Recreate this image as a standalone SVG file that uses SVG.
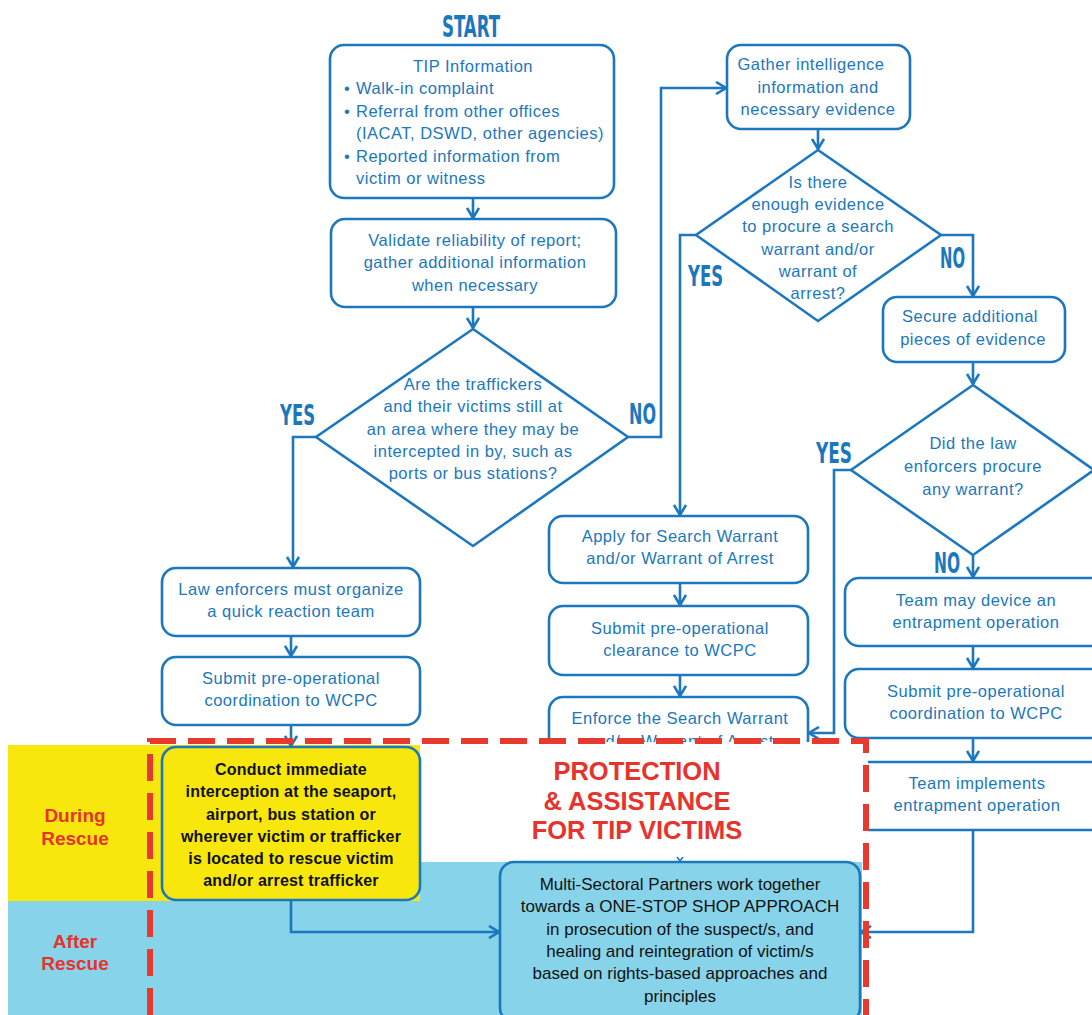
<svg xmlns="http://www.w3.org/2000/svg" width="1092" height="1015" viewBox="0 0 1092 1015">
<defs>
<style>
.box{fill:#fff;stroke:#1b77be;stroke-width:2.6}
.dia{fill:#fff;stroke:#1b77be;stroke-width:2.6}
.t{font-family:"Liberation Sans",Arial,sans-serif;font-size:16.5px;letter-spacing:0.5px;fill:#1b77be;text-anchor:middle}
.tl{font-family:"Liberation Sans",Arial,sans-serif;font-size:16.5px;letter-spacing:0.5px;fill:#1b77be}
.tb{font-family:"Liberation Sans",Arial,sans-serif;font-size:17px;fill:#111;text-anchor:middle}
.ty{font-family:"Liberation Sans",Arial,sans-serif;font-size:16px;font-weight:600;letter-spacing:0.2px;fill:#111;text-anchor:middle}
.lab{font-family:"DejaVu Sans Condensed","DejaVu Sans",sans-serif;font-weight:bold;fill:#1b77be;text-anchor:start}
.red{font-family:"Liberation Sans",Arial,sans-serif;font-weight:bold;fill:#e8322c;text-anchor:middle}
.con{fill:none;stroke:#1b77be;stroke-width:2.6}
</style>
<marker id="ar" viewBox="0 0 12 14" refX="11" refY="7" markerWidth="12" markerHeight="14" markerUnits="userSpaceOnUse" orient="auto">
<path d="M1,1 L11,7 L1,13" fill="none" stroke="#1b77be" stroke-width="2.6"/>
</marker>
</defs>

<!-- boxes partly covered by the dashed region -->
<g id="n-enforce">
<rect class="box" x="549" y="697" width="259" height="80" rx="14"/>
<text class="t" x="680" y="724">Enforce the Search Warrant</text>
<text class="t" x="680" y="747">and/or Warrant of Arrest</text>
</g>
<g id="n-implements">
<rect class="box" x="845" y="762" width="270" height="68" rx="14"/>
<text class="t" x="977" y="789">Team implements</text>
<text class="t" x="977" y="811">entrapment operation</text>
</g>

<!-- white interior of dashed region -->
<rect x="147" y="742" width="721" height="130" fill="#fff"/>

<!-- bands -->
<rect id="band-after" x="8" y="862" width="854" height="153" fill="#87d3e9"/>
<rect id="band-during" x="8" y="745" width="412" height="156" fill="#f8e70c"/>
<g id="lbl-during"><text class="red" font-size="19" x="75" y="822">During</text><text class="red" font-size="19" x="75" y="845">Rescue</text></g>
<g id="lbl-after"><text class="red" font-size="19" x="75" y="948">After</text><text class="red" font-size="19" x="75" y="970">Rescue</text></g>

<g id="start"><text class="lab" x="442" y="37" font-size="30" textLength="58" lengthAdjust="spacingAndGlyphs">START</text></g>

<g id="n-tip">
<rect class="box" x="330" y="45" width="284" height="153" rx="14"/>
<text class="t" x="473" y="72">TIP Information</text>
<text class="tl" x="344" y="94">•</text><text class="tl" x="356" y="94">Walk-in complaint</text>
<text class="tl" x="344" y="117">•</text><text class="tl" x="356" y="117">Referral from other offices</text>
<text class="tl" x="356" y="139">(IACAT, DSWD, other agencies)</text>
<text class="tl" x="344" y="162">•</text><text class="tl" x="356" y="162">Reported information from</text>
<text class="tl" x="356" y="184">victim  or witness</text>
</g>

<g id="n-validate">
<rect class="box" x="331" y="219" width="285" height="88" rx="14"/>
<text class="t" x="475" y="246">Validate reliability of report;</text>
<text class="t" x="475" y="268">gather additional information</text>
<text class="t" x="475" y="291">when necessary</text>
</g>

<g id="n-dec1">
<polygon class="dia" points="473,329 628,437 473,546 316,437"/>
<text class="t" x="473" y="390">Are the traffickers</text>
<text class="t" x="473" y="412">and their victims still at</text>
<text class="t" x="473" y="435">an area where they may be</text>
<text class="t" x="473" y="457">intercepted in by, such as</text>
<text class="t" x="473" y="479">ports or bus stations?</text>
</g>

<g id="n-gather">
<rect class="box" x="727" y="45" width="183" height="84" rx="14"/>
<text class="t" x="811" y="70">Gather intelligence</text>
<text class="t" x="818" y="93">information and</text>
<text class="t" x="818" y="115">necessary evidence</text>
</g>

<g id="n-dec2">
<polygon class="dia" points="818,150 941,235 818,321 696,235"/>
<text class="t" x="818" y="188">Is there</text>
<text class="t" x="818" y="210">enough evidence</text>
<text class="t" x="818" y="232">to procure a search</text>
<text class="t" x="818" y="255">warrant and/or</text>
<text class="t" x="818" y="277">warrant of</text>
<text class="t" x="818" y="299">arrest?</text>
</g>

<g id="n-secure">
<rect class="box" x="883" y="297" width="182" height="65" rx="14"/>
<text class="t" x="970" y="322">Secure additional</text>
<text class="t" x="973" y="345">pieces of evidence</text>
</g>

<g id="n-dec3">
<polygon class="dia" points="973,385 1094,470 973,555 851,470"/>
<text class="t" x="973" y="449">Did the law</text>
<text class="t" x="973" y="472">enforcers procure</text>
<text class="t" x="973" y="495">any warrant?</text>
</g>

<g id="n-device">
<rect class="box" x="845" y="578" width="270" height="68" rx="14"/>
<text class="t" x="976" y="606">Team may device an</text>
<text class="t" x="976" y="628">entrapment operation</text>
</g>

<g id="n-submit-r">
<rect class="box" x="845" y="669" width="270" height="69" rx="14"/>
<text class="t" x="976" y="697">Submit pre-operational</text>
<text class="t" x="976" y="719">coordination to WCPC</text>
</g>

<g id="n-apply">
<rect class="box" x="549" y="516" width="259" height="67" rx="14"/>
<text class="t" x="680" y="542">Apply for Search Warrant</text>
<text class="t" x="680" y="564">and/or Warrant of Arrest</text>
</g>

<g id="n-clearance">
<rect class="box" x="549" y="606" width="259" height="69" rx="14"/>
<text class="t" x="680" y="634">Submit pre-operational</text>
<text class="t" x="680" y="656">clearance to WCPC</text>
</g>

<g id="n-qrt">
<rect class="box" x="162" y="568" width="258" height="68" rx="14"/>
<text class="t" x="291" y="595">Law enforcers must organize</text>
<text class="t" x="291" y="617">a quick reaction team</text>
</g>

<g id="n-submit-l">
<rect class="box" x="162" y="657" width="258" height="68" rx="14"/>
<text class="t" x="291" y="684">Submit pre-operational</text>
<text class="t" x="291" y="706">coordination to WCPC</text>
</g>

<g id="n-intercept">
<rect x="162" y="747" width="258" height="153" rx="14" fill="#f8e70c" stroke="#1b77be" stroke-width="2.6"/>
<text class="ty" x="291" y="775">Conduct immediate</text>
<text class="ty" x="291" y="797">interception at the seaport,</text>
<text class="ty" x="291" y="820">airport, bus station or</text>
<text class="ty" x="291" y="842">wherever victim or trafficker</text>
<text class="ty" x="291" y="864">is located to rescue victim</text>
<text class="ty" x="291" y="886">and/or arrest trafficker</text>
</g>

<g id="n-multi">
<rect x="500" y="862" width="360" height="160" rx="14" fill="#87d3e9" stroke="#1b77be" stroke-width="2.6"/>
<text class="tb" x="680" y="890">Multi-Sectoral Partners work together</text>
<text class="tb" x="680" y="912">towards a ONE-STOP SHOP APPROACH</text>
<text class="tb" x="680" y="935">in prosecution of the suspect/s, and</text>
<text class="tb" x="680" y="957">healing and reintegration of victim/s</text>
<text class="tb" x="680" y="979">based on rights-based approaches and</text>
<text class="tb" x="680" y="1002">principles</text>
</g>

<g id="title-protection">
<text class="red" font-size="25.5" x="637" y="780">PROTECTION</text>
<text class="red" font-size="25.5" x="637" y="810">&amp; ASSISTANCE</text>
<text class="red" font-size="25.5" x="637" y="839">FOR TIP VICTIMS</text>
</g>

<g id="labels">
<text class="lab" x="280" y="425" font-size="29" textLength="35" lengthAdjust="spacingAndGlyphs">YES</text>
<text class="lab" x="629" y="424" font-size="29" textLength="27" lengthAdjust="spacingAndGlyphs">NO</text>
<text class="lab" x="688" y="286" font-size="29" textLength="35" lengthAdjust="spacingAndGlyphs">YES</text>
<text class="lab" x="940" y="268" font-size="29" textLength="25" lengthAdjust="spacingAndGlyphs">NO</text>
<text class="lab" x="816" y="463" font-size="29" textLength="36" lengthAdjust="spacingAndGlyphs">YES</text>
<text class="lab" x="934" y="573" font-size="29" textLength="26" lengthAdjust="spacingAndGlyphs">NO</text>
</g>

<g id="connectors">
<path class="con" d="M473,198 V218" marker-end="url(#ar)"/>
<path class="con" d="M473,307 V328" marker-end="url(#ar)"/>
<path class="con" d="M316,437 H293 V567" marker-end="url(#ar)"/>
<path class="con" d="M628,437 H661 V88 H726" marker-end="url(#ar)"/>
<path class="con" d="M818,129 V149" marker-end="url(#ar)"/>
<path class="con" d="M696,235 H680 V515" marker-end="url(#ar)"/>
<path class="con" d="M941,235 H973 V296" marker-end="url(#ar)"/>
<path class="con" d="M973,362 V384" marker-end="url(#ar)"/>
<path class="con" d="M851,470 H834 V733 H809" marker-end="url(#ar)"/>
<path class="con" d="M973,555 V577" marker-end="url(#ar)"/>
<path class="con" d="M973,646 V668" marker-end="url(#ar)"/>
<path class="con" d="M973,738 V761" marker-end="url(#ar)"/>
<path class="con" d="M973,830 V932 H861" marker-end="url(#ar)"/>
<path class="con" d="M680,583 V605" marker-end="url(#ar)"/>
<path class="con" d="M680,675 V696" marker-end="url(#ar)"/>
<path class="con" d="M291,636 V656" marker-end="url(#ar)"/>
<path class="con" d="M291,725 V746" marker-end="url(#ar)"/>
<path class="con" d="M291,900 V932 H499" marker-end="url(#ar)"/>
<path d="M677,857 L680,861 L683,857" fill="none" stroke="#1b77be" stroke-width="1.5"/>
</g>

<path id="dashed-region" d="M150,1015 V741 H866 V1015" fill="none" stroke="#e8392f" stroke-width="6" stroke-dasharray="27 12"/>
</svg>
